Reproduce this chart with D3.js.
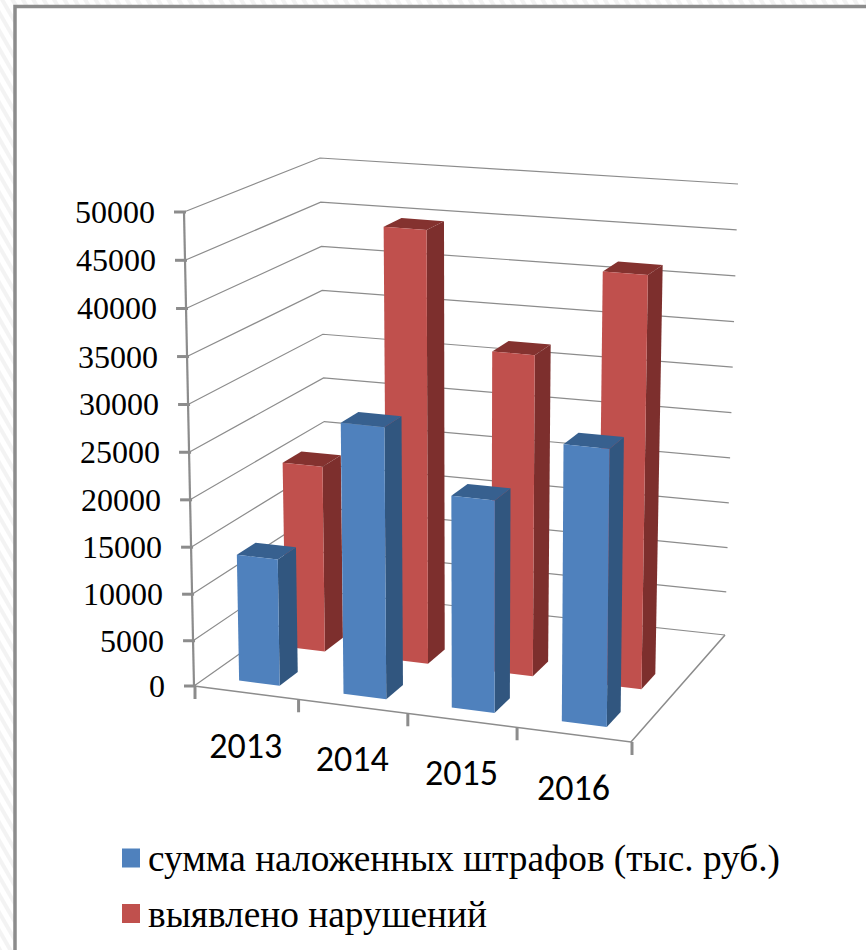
<!DOCTYPE html>
<html>
<head>
<meta charset="utf-8">
<style>
  html, body { margin: 0; padding: 0; background: #fff; }
  svg { display: block; }
</style>
<script src="https://cdn.jsdelivr.net/npm/d3@7/dist/d3.min.js"></script>
</head>
<body>
<div id="chart"></div>
<script>
const years = ["2013", "2014", "2015", "2016"];
const seriesNames = ["сумма наложенных штрафов (тыс. руб.)", "выявлено нарушений"];
const fines = [13700, 28800, 22400, 28900];
const violations = [20500, 46900, 34600, 44000];
const valueTicks = [0, 5000, 10000, 15000, 20000, 25000, 30000, 35000, 40000, 45000, 50000];

const width = 866, height = 950;
const serif = "'Liberation Serif'", sans = "'Carlito'";

// corners of the 3d box as they land on the picture
const front = { left: { bottom: [194, 686], top: [184, 212] }, right: { bottom: [631, 742], top: [636, 250] } };
const back = { left: { bottom: [327, 592], top: [320, 158] }, right: { bottom: [725, 635], top: [738, 184] } };

const colors = [
  { front: "#4f81bd", side: "#31567f", top: "#37608f" },
  { front: "#c0504d", side: "#7d2f2d", top: "#84322f" }
];
const gridColor = "#8c8c8c";

// along the front edge (perspective makes the categories grow a little)
const x = d3.scaleLinear().domain([0, 1, 2, 3, 4]).range([0, 0.237, 0.487, 0.737, 1]);
const y = d3.scalePow().exponent(1.02).domain([0, 50000]).range([0, 1]);
const depth = d3.scaleBand().domain(d3.range(2)).range([0.1, 0.6]).paddingInner(0.6);

const mix = (a, b, t) => [a[0] + (b[0] - a[0]) * t, a[1] + (b[1] - a[1]) * t];

// s along categories, w into the depth, t up the value axis
function project(s, w, t) {
  const f = mix(mix(front.left.bottom, front.right.bottom, s), mix(front.left.top, front.right.top, s), t);
  const b = mix(mix(back.left.bottom, back.right.bottom, s), mix(back.left.top, back.right.top, s), t);
  return mix(f, b, w);
}

const svg = d3.select("#chart").append("svg").attr("width", width).attr("height", height);

const defs = svg.append("defs");
const stripes = defs.append("pattern").attr("id", "stripes")
  .attr("width", 9).attr("height", 9)
  .attr("patternUnits", "userSpaceOnUse")
  .attr("patternTransform", "rotate(-30)");
stripes.append("rect").attr("width", 9).attr("height", 9).attr("fill", "#fff");
stripes.append("rect").attr("width", 4).attr("height", 9).attr("fill", "#f3f3f3");

// page background and frame
svg.append("rect").attr("width", width).attr("height", height).attr("fill", "url(#stripes)");
svg.append("rect").attr("x", 15).attr("y", 6.5).attr("width", width).attr("height", height).attr("fill", "#fff");
svg.append("path").attr("d", `M15,${height}V6.5H${width}`)
  .attr("fill", "none").attr("stroke", gridColor).attr("stroke-width", 3.5);

const line = d3.line();
const grid = svg.append("g").attr("fill", "none").attr("stroke", gridColor);

// walls
grid.selectAll("path.wall")
  .data(valueTicks)
  .join("path")
  .attr("class", "wall")
  .attr("stroke-width", 1.2)
  .attr("d", d => line([project(0, 0, y(d)), project(0, 1, y(d)), project(1, 1, y(d))]));

// floor
grid.append("path")
  .attr("stroke-width", 1.6)
  .attr("d", line([project(0, 0, 0), project(1, 0, 0), project(1, 1, 0)]));

// value axis
grid.append("path")
  .attr("stroke-width", 2.2)
  .attr("d", line([project(0, 0, 0), project(0, 0, 1)]));
grid.selectAll("path.ytick")
  .data(valueTicks)
  .join("path")
  .attr("class", "ytick")
  .attr("stroke-width", 3)
  .attr("d", d => {
    const p = project(0, 0, y(d));
    return line([[p[0] - 10, p[1]], [p[0] + 2, p[1]]]);
  });

// category ticks
grid.selectAll("path.xtick")
  .data(d3.range(5))
  .join("path")
  .attr("class", "xtick")
  .attr("stroke-width", 3)
  .attr("d", d => {
    const p = project(x(d), 0, 0);
    return line([[p[0] + 1, p[1]], [p[0] + 1, p[1] + 13]]);
  });

svg.append("g").selectAll("text")
  .data(valueTicks)
  .join("text")
  .attr("x", d => project(0, 0, y(d))[0] - 29)
  .attr("y", d => project(0, 0, y(d))[1] + 11)
  .attr("text-anchor", "end")
  .style("font-family", serif)
  .attr("font-size", 32)
  .attr("fill", "#000")
  .text(d => d);

svg.append("g").selectAll("text")
  .data(years)
  .join("text")
  .attr("x", (d, i) => project(x(i + 0.5), 0, 0)[0])
  .attr("y", (d, i) => project(x(i + 0.5), 0, 0)[1] + 65)
  .attr("text-anchor", "middle")
  .style("font-family", sans)
  .attr("font-size", 36)
  .attr("fill", "#000")
  .text(d => d);

// bars, back row first
function drawBars(values, row) {
  const g = svg.append("g");
  const w0 = depth(row), w1 = depth(row) + depth.bandwidth();
  values.forEach((v, i) => {
    const s0 = x(i + 0.31), s1 = x(i + 0.705), t = y(v);
    const faces = [
      { fill: colors[row].side, pts: [project(s1, w0, 0), project(s1, w1, 0), project(s1, w1, t), project(s1, w0, t)] },
      { fill: colors[row].top, pts: [project(s0, w0, t), project(s1, w0, t), project(s1, w1, t), project(s0, w1, t)] },
      { fill: colors[row].front, pts: [project(s0, w0, 0), project(s1, w0, 0), project(s1, w0, t), project(s0, w0, t)] }
    ];
    g.append("g").selectAll("path")
      .data(faces)
      .join("path")
      .attr("fill", d => d.fill)
      .attr("d", d => line(d.pts) + "Z");
  });
}
drawBars(violations, 1);
drawBars(fines, 0);

// legend
const legend = svg.append("g");
const legendRows = [
  { swatchY: 848.5, baseline: 871, length: 632 },
  { swatchY: 904, baseline: 927, length: 339 }
];
legend.selectAll("rect")
  .data(seriesNames)
  .join("rect")
  .attr("x", 122)
  .attr("y", (d, i) => legendRows[i].swatchY)
  .attr("width", 18)
  .attr("height", 19)
  .attr("fill", (d, i) => colors[i].front);
legend.selectAll("text")
  .data(seriesNames)
  .join("text")
  .attr("x", 148)
  .attr("y", (d, i) => legendRows[i].baseline)
  .style("font-family", serif)
  .attr("font-size", 37)
  .attr("fill", "#000")
  .attr("textLength", (d, i) => legendRows[i].length)
  .attr("lengthAdjust", "spacingAndGlyphs")
  .text(d => d);
</script>
</body>
</html>
